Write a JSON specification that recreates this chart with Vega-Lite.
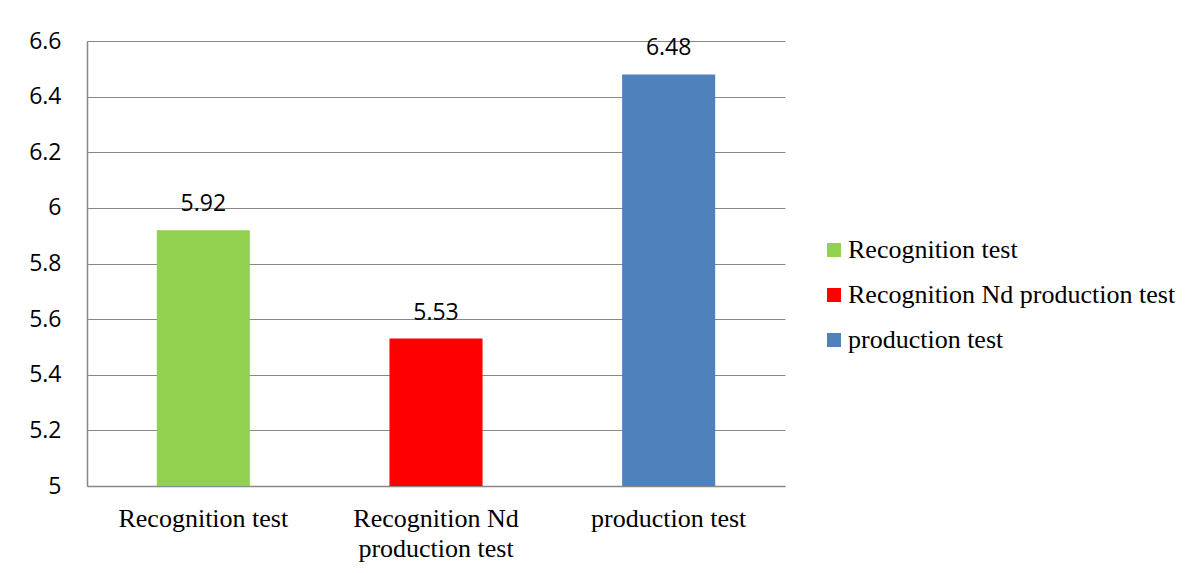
{
  "$schema": "https://vega.github.io/schema/vega-lite/v6.json",
  "width": 698,
  "height": 445,
  "autosize": {"type": "none"},
  "padding": {"left": 87, "top": 41, "right": 411, "bottom": 87},
  "background": "white",
  "data": {"values": [
    {"test": "Recognition test", "score": 5.92},
    {"test": "Recognition Nd production test", "score": 5.53},
    {"test": "production test", "score": 6.48}
  ]},
  "encoding": {
    "x": {"field": "test", "type": "nominal", "sort": null,
      "scale": {"paddingInner": 0.6, "paddingOuter": 0.3},
      "axis": {"title": null, "labelAngle": 0, "labelFont": "Liberation Serif", "labelFontSize": 26, "labelColor": "#000",
        "labelPadding": 19, "labelLineHeight": 30, "ticks": false, "domainColor": "#888", "domainWidth": 1.5, "grid": false, "labelLimit": 400,
        "labelExpr": "datum.value == 'Recognition Nd production test' ? ['Recognition Nd', 'production test'] : datum.value"}},
    "y": {"field": "score", "type": "quantitative",
      "scale": {"domain": [5, 6.6], "zero": false, "nice": false},
      "axis": {"title": null, "values": [5, 5.2, 5.4, 5.6, 5.8, 6, 6.2, 6.4, 6.6], "format": "~g",
        "labelFont": "Open Sans", "labelFontSize": 23, "labelColor": "#000", "labelPadding": 26, "ticks": false,
        "domainColor": "#888", "domainWidth": 1.5, "gridColor": "#888", "gridWidth": 1.2}}
  },
  "layer": [
    {"mark": {"type": "bar", "clip": true},
      "encoding": {"color": {"field": "test", "type": "nominal", "sort": null,
        "scale": {"domain": ["Recognition test", "Recognition Nd production test", "production test"], "range": ["#92D050", "#FF0000", "#4F81BD"]},
        "legend": {"title": null, "orient": "none", "legendX": 734, "legendY": 196, "symbolType": "square", "symbolSize": 196,
          "symbolStrokeWidth": 0, "labelFont": "Liberation Serif", "labelFontSize": 26, "labelColor": "#000", "rowPadding": 19, "labelOffset": 1, "labelLimit": 400}}}},
    {"mark": {"type": "text", "baseline": "alphabetic", "dy": -19, "font": "Open Sans", "fontSize": 23, "color": "#000"},
      "encoding": {"text": {"field": "score", "type": "quantitative", "format": ".2f"}}}
  ],
  "config": {"view": {"stroke": null}}
}
